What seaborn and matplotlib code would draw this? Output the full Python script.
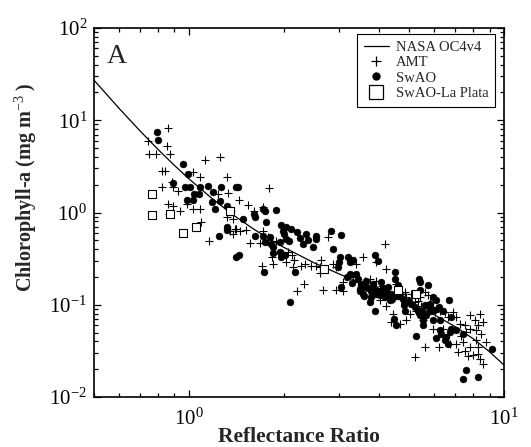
import matplotlib
matplotlib.use("Agg")
import matplotlib.pyplot as plt
from matplotlib.lines import Line2D
from matplotlib.ticker import LogLocator, NullFormatter
import seaborn as sns
import pandas as pd

# ---------------- data ----------------
oc4_ratio = [0.5, 0.6, 0.7, 0.8, 0.9, 1.0, 1.2, 1.4, 1.6, 1.8, 2.0, 2.5,
             3.0, 3.5, 4.0, 5.0, 6.0, 7.0, 8.0, 9.0, 10.0]
oc4_chl = [27.2, 13.5, 7.66, 4.79, 3.24, 2.32, 1.366, 0.913, 0.666, 0.5165,
           0.4194, 0.2842, 0.2154, 0.1734, 0.1443, 0.105, 0.078, 0.0579,
           0.0426, 0.0309, 0.0222]

amt_ratio = [0.741, 0.747, 0.786, 0.856, 0.850, 0.870, 0.823, 0.843, 0.819, 0.885,
             0.892, 0.925, 0.860, 0.892, 0.936, 0.866, 0.983, 1.027, 1.084, 1.089,
             1.032, 1.084, 1.124, 1.254, 1.317, 1.239, 1.332, 1.444, 1.543, 1.798,
             1.721, 1.611, 1.160, 1.317, 1.382, 1.399, 1.451, 1.516, 1.561, 1.680,
             1.721, 1.704, 1.842, 1.785, 1.897, 1.829, 1.991, 2.065, 2.132, 2.158,
             2.040, 2.142, 2.277, 2.333, 2.449, 2.540, 2.635, 2.603, 2.616, 2.766,
             2.211, 2.316, 2.667, 2.940, 3.086, 3.402, 3.572, 3.937, 4.204, 4.234,
             3.615, 3.750, 3.937, 4.034, 4.183, 4.286, 4.501, 4.556, 4.612, 4.726,
             4.842, 4.901, 5.084, 5.209, 5.429, 5.603, 5.741, 5.812, 5.955, 6.028,
             6.252, 6.484, 6.645, 6.891, 7.061, 7.235, 7.504, 7.783, 8.372, 8.072,
             8.578, 8.270, 7.783, 7.596, 7.324, 8.171, 8.474, 8.171, 8.790, 7.413,
             7.061, 7.148, 7.504, 7.783, 7.975, 8.270, 8.372, 8.578, 8.270, 7.689,
             6.725, 6.222, 5.617, 5.209, 4.446, 4.392, 4.668, 4.446, 4.234, 4.034,
             5.272, 5.468, 5.741, 5.022, 4.901, 5.535, 5.955, 6.407, 6.808, 3.320,
             3.443, 2.940, 2.869, 1.349, 1.416, 1.851, 3.086, 1.382, 3.700, 4.100,
             4.750, 5.350, 6.100]
amt_chl = [6.03, 4.32, 4.32, 8.28, 5.24, 4.32, 2.85, 2.85, 1.88, 2.13,
           1.88, 1.73, 1.24, 1.19, 1.05, 0.967, 1.24, 1.10, 1.10, 0.786,
           2.74, 2.42, 3.72, 3.98, 2.42, 1.59, 1.62, 1.38, 1.22, 1.85,
           1.14, 1.05, 0.497, 0.890, 0.854, 0.665, 0.638, 0.649, 0.465, 0.465,
           0.638, 0.266, 0.328, 0.549, 0.497, 0.439, 0.356, 0.372, 0.342, 0.302,
           0.289, 0.256, 0.266, 0.278, 0.266, 0.266, 0.302, 0.256, 0.220, 0.540,
           0.1427, 0.166, 0.1463, 0.1451, 0.1427, 0.278, 0.328, 0.289, 0.450, 0.245,
           0.180, 0.191, 0.183, 0.1488, 0.1427, 0.1208, 0.1313, 0.1685, 0.1427, 0.1159,
           0.1369, 0.1208, 0.1313, 0.1066, 0.1208, 0.1369, 0.126, 0.1066, 0.0941, 0.0831,
           0.0866, 0.0831, 0.0733, 0.0831, 0.0733, 0.0621, 0.0596, 0.0765, 0.0784, 0.0675,
           0.0648, 0.0596, 0.0548, 0.0504, 0.0464, 0.0526, 0.0484, 0.041, 0.0393, 0.0393,
           0.0377, 0.0306, 0.0319, 0.0347, 0.0282, 0.0294, 0.0259, 0.0229, 0.0347, 0.0275,
           0.0371, 0.0347, 0.0347, 0.027, 0.0797, 0.0648, 0.0621, 0.1159, 0.0981, 0.1112,
           0.0866, 0.0981, 0.0797, 0.0797, 0.0675, 0.0675, 0.0548, 0.0548, 0.0526, 0.199,
           0.176, 0.256, 0.278, 0.638, 0.665, 0.278, 0.176, 0.587, 0.160, 0.160,
           0.130, 0.110, 0.090]

swao_ratio = [0.794, 0.799, 0.955, 0.995, 0.892, 0.971, 1.007, 1.076, 1.084, 1.152,
              0.990, 1.032, 1.194, 1.263, 1.416, 1.433, 1.180, 1.209, 1.260, 1.317,
              1.356, 1.480, 1.611, 1.627, 1.721, 1.742, 1.897, 1.763, 1.317, 1.326,
              1.245, 1.409, 1.444, 1.627, 1.721, 1.742, 1.729, 1.807, 1.829, 1.851,
              1.958, 1.991, 2.030, 2.116, 2.040, 2.080, 1.944, 1.967, 2.016, 2.169,
              2.091, 2.249, 2.362, 2.390, 2.540, 2.540, 2.479, 2.834, 3.034, 2.869,
              3.012, 2.998, 2.976, 3.201, 3.240, 3.320, 3.890, 3.985, 3.034, 3.185,
              3.240, 3.402, 3.443, 3.528, 3.486, 3.660, 3.705, 3.796, 3.842, 3.750,
              3.572, 3.890, 3.937, 4.034, 4.133, 4.214, 4.286, 4.392, 4.501, 4.501,
              4.612, 4.668, 4.479, 4.556, 4.783, 4.842, 5.084, 5.209, 5.376, 5.403,
              5.337, 5.403, 5.535, 5.672, 5.812, 5.955, 5.955, 5.812, 6.102, 6.407,
              6.694, 6.808, 5.535, 5.247, 6.072, 6.283, 6.329, 6.484, 6.564, 6.725,
              6.645, 6.808, 7.061, 7.413, 7.413, 7.559, 8.270, 9.162, 4.133, 5.741,
              3.615, 4.080, 4.339, 3.796, 5.403, 6.252, 1.040,
              3.300, 3.500, 3.900, 4.000, 4.200, 4.400, 3.600, 3.800, 4.600, 5.000,
              5.600, 5.800, 6.000, 6.200, 5.500, 4.800, 2.200, 2.000, 1.950, 2.300,
              1.850]
swao_chl = [7.43, 6.13, 3.37, 2.62, 2.08, 1.91, 1.88, 1.59, 1.91, 1.93,
            1.35, 1.35, 1.66, 1.91, 1.91, 1.91, 1.29, 1.10, 1.33, 1.19,
            1.05, 0.854, 0.967, 0.890, 1.10, 1.05, 1.07, 0.786, 0.694, 0.649,
            0.563, 0.328, 0.348, 0.563, 0.563, 0.477, 0.225, 0.540, 0.457, 0.421,
            0.723, 0.638, 0.694, 0.665, 0.518, 0.497, 0.372, 0.328, 0.342, 0.225,
            0.1084, 0.531, 0.587, 0.505, 0.563, 0.518, 0.421, 0.627, 0.573, 0.404,
            0.328, 0.289, 0.256, 0.328, 0.289, 0.302, 0.342, 0.297, 0.155, 0.199,
            0.216, 0.216, 0.191, 0.1617, 0.1427, 0.183, 0.1526, 0.1427, 0.1685, 0.1066,
            0.1313, 0.0866, 0.1313, 0.126, 0.1313, 0.1427, 0.155, 0.1313, 0.225, 0.191,
            0.1617, 0.1313, 0.0704, 0.0596, 0.1159, 0.0866, 0.1023, 0.0941, 0.191, 0.176,
            0.0866, 0.0765, 0.0675, 0.0765, 0.0866, 0.0675, 0.1208, 0.1023, 0.1112, 0.0866,
            0.113, 0.0733, 0.0596, 0.0453, 0.0434, 0.0526, 0.0484, 0.041, 0.0445, 0.0504,
            0.0377, 0.0548, 0.0526, 0.0484, 0.0155, 0.0194, 0.0164, 0.0333, 0.1526, 0.1617,
            0.155, 0.176, 0.1112, 0.1208, 0.1451, 0.0675, 1.57,
            0.170, 0.150, 0.150, 0.140, 0.120, 0.115, 0.125, 0.130, 0.125, 0.110,
            0.100, 0.095, 0.088, 0.095, 0.085, 0.100, 0.620, 0.580, 0.480, 0.460,
            0.360]

plata_ratio = [0.763, 0.763, 0.870, 0.959, 1.052, 1.349, 2.69, 4.612, 5.272]
plata_chl = [1.59, 0.928, 0.967, 0.597, 0.694, 1.05, 0.245, 0.1451, 0.1313]

legend_labels = ["NASA OC4v4", "AMT", "SwAO", "SwAO-La Plata"]
panel_label = "A"

# ---------------- style ----------------
sns.set_theme(style="ticks")
plt.rcParams["font.family"] = ["Liberation Serif", "DejaVu Serif"]
plt.rcParams["mathtext.fontset"] = "custom"
plt.rcParams["mathtext.rm"] = "Liberation Serif"
plt.rcParams["mathtext.bf"] = "Liberation Serif:bold"
plt.rcParams["mathtext.it"] = "Liberation Serif:italic"

fig = plt.figure(figsize=(5.31, 4.47), dpi=100)
ax = fig.add_axes([94 / 531, 1 - 397 / 447, 410 / 531, 369 / 447])

df_line = pd.DataFrame({"ratio": oc4_ratio, "chl": oc4_chl})
df_amt = pd.DataFrame({"ratio": amt_ratio, "chl": amt_chl})
df_swao = pd.DataFrame({"ratio": swao_ratio, "chl": swao_chl})
df_plata = pd.DataFrame({"ratio": plata_ratio, "chl": plata_chl})

sns.lineplot(data=df_line, x="ratio", y="chl", ax=ax, color="black",
             linewidth=0.9, estimator=None, sort=True, zorder=2)
sns.scatterplot(data=df_amt, x="ratio", y="chl", ax=ax, marker="+",
                color="black", s=32, linewidth=0.8, zorder=3)
sns.scatterplot(data=df_swao, x="ratio", y="chl", ax=ax, marker="o",
                color="black", edgecolor="black", s=25, linewidth=0.3, zorder=3)
sns.scatterplot(data=df_plata, x="ratio", y="chl", ax=ax, marker="s",
                facecolor="white", edgecolor="black", s=34, linewidth=0.8, zorder=4)

ax.set_xscale("log")
ax.set_yscale("log")
ax.set_xlim(0.5, 10)
ax.set_ylim(0.01, 100)

ax.xaxis.set_minor_locator(LogLocator(base=10, subs=range(2, 10)))
ax.yaxis.set_minor_locator(LogLocator(base=10, subs=range(2, 10)))
ax.xaxis.set_minor_formatter(NullFormatter())
ax.yaxis.set_minor_formatter(NullFormatter())

ax.tick_params(which="both", direction="in", top=True, right=True,
               color="black", width=0.9)
ax.tick_params(which="major", length=5, labelsize=15, colors="black")
ax.tick_params(which="minor", length=3)
ax.tick_params(axis="x", which="major", pad=8)
ax.tick_params(axis="y", which="major", pad=5)

for sp in ax.spines.values():
    sp.set_visible(True)
    sp.set_color("black")
    sp.set_linewidth(1.2)

ax.set_xlabel("Reflectance Ratio", fontsize=15.5, fontweight="bold")
ax.xaxis.set_label_coords(0.5, -(442 - 397) / 369)
ax.xaxis.label.set_va("baseline")
ax.set_ylabel(r"Chlorophyll-a (mg m$^{-3}$ )", fontsize=14.5, fontweight="bold")
ax.yaxis.set_label_coords(-(94 - 39) / 410, (397 - 187) / 369)

ax.text(0.032, 0.905, panel_label, transform=ax.transAxes, fontsize=20,
        ha="left", va="baseline")

handles = [
    Line2D([], [], color="black", linewidth=0.9),
    Line2D([], [], color="black", marker="+", linestyle="none",
           markersize=7, markeredgewidth=0.9),
    Line2D([], [], color="black", marker="o", linestyle="none", markersize=5),
    Line2D([], [], color="black", marker="s", linestyle="none", markersize=9.5,
           markerfacecolor="white", markeredgewidth=0.9),
]
leg = ax.legend(handles, legend_labels, loc="upper right",
                bbox_to_anchor=((495 - 94) / 410, (397 - 34) / 369),
                borderaxespad=0, frameon=True, fancybox=False,
                edgecolor="black", framealpha=1, fontsize=10.5,
                handlelength=1.7, handletextpad=0.5, labelspacing=0.15,
                borderpad=0.45)
leg.get_frame().set_linewidth(0.8)

fig.savefig("out.png", dpi=100)
